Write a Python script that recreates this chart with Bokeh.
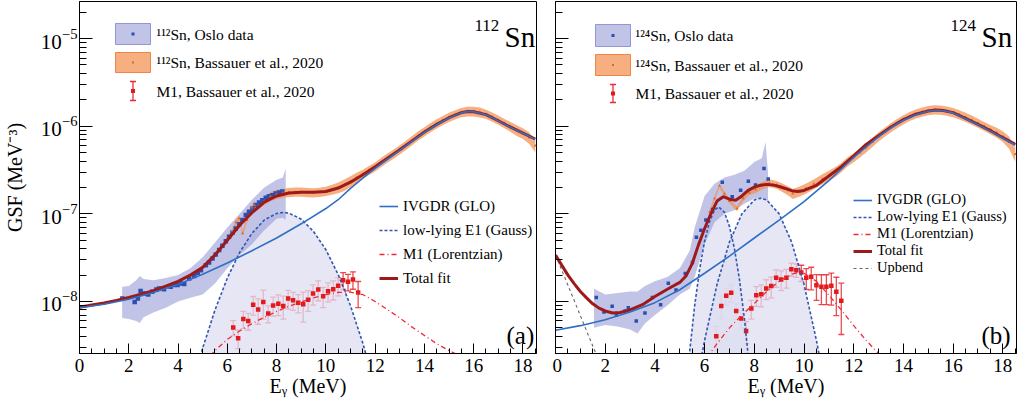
from bokeh.plotting import figure
from bokeh.models import (ColumnDataSource, FixedTicker, SingleIntervalTicker, Range1d, Label,
                          Legend, LegendItem, Whisker, TeeHead, BoxAnnotation)
from bokeh.layouts import row
from bokeh.embed import file_html
from bokeh.resources import INLINE

FONT = "Liberation Serif"

# ---------------- 112Sn data ----------------
oslo112_e = [1.74, 2.24, 2.37, 2.48, 2.62, 2.79, 2.95, 3.12, 3.23, 3.43, 3.70, 3.84, 3.98, 4.11, 4.25,
             4.45, 4.66, 4.80, 4.93, 5.13, 5.26, 5.40, 5.53, 5.67, 5.80, 5.94, 6.07, 6.21, 6.34, 6.48,
             6.61, 6.75, 6.88, 7.02, 7.15, 7.29, 7.42, 7.56, 7.69, 7.83, 7.96, 8.10, 8.23]
oslo112_v = [1.08e-8, 9.9e-9, 1.08e-8, 1.32e-8, 1.23e-8, 1.2e-8, 1.29e-8, 1.37e-8, 1.41e-8, 1.38e-8,
             1.47e-8, 1.54e-8, 1.54e-8, 1.6e-8, 1.58e-8, 1.83e-8, 1.96e-8, 2.13e-8, 2.28e-8, 2.6e-8,
             2.79e-8, 3.1e-8, 3.44e-8, 3.86e-8, 4.33e-8, 4.88e-8, 5.48e-8, 6.1e-8, 6.8e-8, 7.6e-8,
             8.5e-8, 9.7e-8, 1.06e-7, 1.15e-7, 1.26e-7, 1.35e-7, 1.43e-7, 1.53e-7, 1.59e-7, 1.63e-7,
             1.71e-7, 1.75e-7, 1.8e-7]
band112_e = [1.73, 2.0, 2.3, 2.45, 2.6, 3.0, 3.5, 4.0, 4.5, 5.0, 5.5, 6.0, 6.5, 7.0, 7.5, 8.0, 8.25, 8.37]
band112_hi = [1.47e-8, 1.5e-8, 1.75e-8, 1.95e-8, 1.8e-8, 1.75e-8, 1.85e-8, 2.0e-8, 2.4e-8, 3.2e-8,
              4.7e-8, 7.0e-8, 1.0e-7, 1.45e-7, 2.0e-7, 2.45e-7, 2.6e-7, 3.3e-7]
band112_lo = [6.5e-9, 6.3e-9, 6.0e-9, 5.7e-9, 6.6e-9, 7.5e-9, 8.5e-9, 1.0e-8, 1.1e-8, 1.2e-8,
              1.6e-8, 2.4e-8, 3.4e-8, 4.5e-8, 6.5e-8, 8.8e-8, 9.0e-8, 8.5e-8]

bass112_e = [6.0, 6.2, 6.35, 6.48, 6.62, 6.8, 7.0, 7.1, 7.25, 7.5, 7.75, 8.0, 8.25, 8.5, 8.75, 9.0,
             9.25, 9.5, 9.75, 10.0, 10.25, 10.5, 10.75, 11.0, 11.25, 11.5, 11.75, 12.0, 12.25, 12.5,
             12.75, 13.0, 13.25, 13.5, 13.75, 14.0, 14.25, 14.5, 14.75, 15.0, 15.25, 15.5, 15.75,
             16.0, 16.25, 16.5, 16.75, 17.0, 17.25, 17.5, 17.75, 18.0, 18.25, 18.5]
bass112_v = [5.2e-8, 6.3e-8, 8.0e-8, 8.9e-8, 6.0e-8, 8.5e-8, 1.18e-7, 1.26e-7, 1.2e-7, 1.4e-7,
             1.58e-7, 1.68e-7, 1.73e-7, 1.76e-7, 1.78e-7, 1.78e-7, 1.76e-7, 1.75e-7, 1.77e-7, 1.82e-7,
             1.9e-7, 2.0e-7, 2.15e-7, 2.35e-7, 2.6e-7, 2.85e-7, 3.15e-7, 3.45e-7, 3.9e-7, 4.35e-7,
             4.85e-7, 5.4e-7, 6.1e-7, 6.9e-7, 7.8e-7, 8.7e-7, 9.7e-7, 1.07e-6, 1.17e-6, 1.27e-6,
             1.36e-6, 1.44e-6, 1.48e-6, 1.48e-6, 1.45e-6, 1.38e-6, 1.28e-6, 1.18e-6, 1.08e-6, 9.9e-7,
             9.0e-7, 8.3e-7, 7.4e-7, 6.0e-7]
bass112_rel = [0.06, 0.06, 0.07, 0.07, 0.06, 0.07, 0.07, 0.07, 0.08, 0.10,
               0.12, 0.12, 0.12, 0.12, 0.12, 0.12, 0.12, 0.12, 0.12, 0.12,
               0.13, 0.14, 0.15, 0.14, 0.13, 0.12, 0.12, 0.12, 0.12, 0.12,
               0.12, 0.12, 0.12, 0.12, 0.12, 0.12, 0.12, 0.12, 0.12, 0.12,
               0.12, 0.12, 0.13, 0.13, 0.13, 0.12, 0.12, 0.12, 0.12, 0.13,
               0.14, 0.14, 0.15, 0.16]

m1_112_e = [6.24, 6.44, 6.65, 6.85, 7.05, 7.25, 7.46, 7.66, 7.86, 8.07, 8.27, 8.47, 8.67, 8.88,
            9.08, 9.28, 9.48, 9.69, 9.89, 10.09, 10.3, 10.5, 10.7, 10.9, 11.1, 11.31]
m1_112_v = [5.05e-9, 3.8e-9, 6.3e-9, 6.0e-9, 9.2e-9, 8.1e-9, 9.9e-9, 7.3e-9, 9.0e-9, 9.4e-9,
            8.9e-9, 1.08e-8, 1.03e-8, 9.7e-9, 9.3e-9, 1.05e-8, 1.23e-8, 1.37e-8, 1.15e-8, 1.31e-8,
            1.38e-8, 1.51e-8, 1.75e-8, 1.68e-8, 1.78e-8, 1.27e-8]
m1_112_err = [1.0e-9, 0.9e-9, 1.4e-9, 1.3e-9, 2.2e-9, 2.6e-9, 3.6e-9, 1.6e-9, 2.2e-9, 2.5e-9,
              2.6e-9, 2.6e-9, 2.4e-9, 2.3e-9, 3.5e-9, 2.8e-9, 3.2e-9, 3.5e-9, 3.0e-9, 3.2e-9,
              3.4e-9, 3.5e-9, 3.8e-9, 3.6e-9, 4.0e-9, 4.2e-9]

glo112_e = [0, 1, 2, 3, 4, 5, 6, 7, 8, 9, 10, 10.5, 11, 11.5, 12, 12.5, 13, 13.5, 14, 14.5, 15,
            15.5, 15.75, 16, 16.5, 17, 17.5, 18, 18.5]
glo112_v = [8.5e-9, 9.3e-9, 1.06e-8, 1.27e-8, 1.56e-8, 2.05e-8, 2.75e-8, 3.8e-8, 5.3e-8, 7.7e-8,
            1.15e-7, 1.45e-7, 1.95e-7, 2.55e-7, 3.3e-7, 4.2e-7, 5.3e-7, 6.7e-7, 8.5e-7, 1.04e-6,
            1.24e-6, 1.42e-6, 1.47e-6, 1.46e-6, 1.35e-6, 1.15e-6, 9.7e-7, 8.3e-7, 7.1e-7]
gau112_e = [4.9, 5.0, 5.5, 6.0, 6.5, 7.0, 7.5, 8.0, 8.28, 8.5, 9.0, 9.5, 10.0, 10.5, 11.0, 11.5, 11.7]
gau112_v = [2.35e-9, 2.94e-9, 8.0e-9, 1.85e-8, 3.63e-8, 6.0e-8, 8.5e-8, 1.01e-7, 1.04e-7, 1.02e-7,
            8.7e-8, 6.3e-8, 3.9e-8, 2.03e-8, 8.95e-9, 3.35e-9, 2.1e-9]
lor112_e = [5.3, 5.5, 6.0, 6.5, 7.0, 7.5, 8.0, 8.5, 9.0, 9.5, 10.0, 10.5, 11.0, 11.5, 12.0, 12.5,
            13.0, 13.5, 14.0, 14.5, 15.0, 15.5]
lor112_v = [2.4e-9, 2.75e-9, 3.7e-9, 4.6e-9, 5.6e-9, 6.6e-9, 7.7e-9, 8.8e-9, 9.9e-9, 1.1e-8,
            1.2e-8, 1.27e-8, 1.28e-8, 1.2e-8, 1.0e-8, 8.1e-9, 6.5e-9, 5.1e-9, 4.1e-9, 3.3e-9,
            2.75e-9, 2.35e-9]
tot112_e = [0, 0.5, 1, 1.5, 2, 2.5, 3, 3.5, 4, 4.5, 5, 5.5, 6, 6.5, 7, 7.5, 8, 8.5, 9, 9.5, 10,
            10.5, 11, 11.5, 12, 12.5, 13, 13.5, 14, 14.5, 15, 15.5, 15.75, 16, 16.5, 17, 17.5, 18, 18.5]
tot112_v = [8.6e-9, 9.1e-9, 9.6e-9, 1.03e-8, 1.11e-8, 1.21e-8, 1.33e-8, 1.5e-8, 1.7e-8, 2.0e-8,
            2.45e-8, 3.4e-8, 5.0e-8, 7.4e-8, 1.03e-7, 1.36e-7, 1.6e-7, 1.73e-7, 1.76e-7, 1.76e-7,
            1.8e-7, 1.97e-7, 2.3e-7, 2.8e-7, 3.45e-7, 4.3e-7, 5.4e-7, 6.8e-7, 8.6e-7, 1.05e-6,
            1.25e-6, 1.43e-6, 1.475e-6, 1.465e-6, 1.355e-6, 1.155e-6, 9.75e-7, 8.35e-7, 7.15e-7]

# ---------------- 124Sn data ----------------
oslo124_e = [1.64, 1.95, 2.28, 2.45, 2.80, 2.93, 3.25, 3.60, 3.90, 4.23, 4.54, 4.85, 5.22, 5.51,
             5.67, 5.85, 6.05, 6.32, 6.71, 7.11, 7.45, 7.76, 8.05, 8.39, 8.56]
oslo124_v = [1.11e-8, 7.6e-9, 8.8e-9, 7.0e-9, 7.8e-9, 8.5e-9, 6.0e-9, 7.4e-9, 1.11e-8, 9.2e-9,
             1.62e-8, 1.35e-8, 2.09e-8, 2.79e-8, 5.4e-8, 6.5e-8, 8.5e-8, 1.12e-7, 2.3e-7, 1.57e-7,
             1.86e-7, 2.36e-7, 2.14e-7, 3.3e-7, 2.5e-7]
band124_e = [1.55, 2.0, 2.5, 3.0, 3.3, 3.6, 4.0, 4.5, 5.0, 5.4, 5.6, 6.0, 6.4, 6.8, 7.2, 7.6, 8.0,
             8.3, 8.45, 8.55]
band124_hi = [1.4e-8, 1.2e-8, 1.25e-8, 1.3e-8, 1.3e-8, 1.5e-8, 1.7e-8, 1.9e-8, 2.4e-8, 3.8e-8,
              7.0e-8, 1.6e-7, 2.2e-7, 2.6e-7, 2.8e-7, 3.1e-7, 3.9e-7, 4.3e-7, 6.6e-7, 3.0e-7]
band124_lo = [5.0e-9, 5.4e-9, 5.2e-9, 4.8e-9, 4.3e-9, 5.6e-9, 7.0e-9, 9.0e-9, 1.2e-8, 1.4e-8,
              1.9e-8, 4.5e-8, 8.0e-8, 1.0e-7, 1.1e-7, 1.3e-7, 1.5e-7, 1.5e-7, 1.45e-7, 1.4e-7]

bass124_e = [6.2, 6.4, 6.6, 6.8, 7.0, 7.3, 7.55, 7.8, 8.05, 8.3, 8.6, 8.9, 9.13, 9.35, 9.55, 9.8,
             10.07, 10.4, 10.74, 11.0, 11.28, 11.5, 11.75, 12.0, 12.25, 12.5, 12.75, 13.0, 13.25,
             13.5, 13.75, 14.0, 14.25, 14.5, 14.75, 15.0, 15.25, 15.5, 15.75, 16.0, 16.25, 16.5,
             16.75, 17.0, 17.25, 17.5, 17.75, 18.0, 18.25, 18.5]
bass124_v = [1.05e-7, 1.5e-7, 2.1e-7, 1.7e-7, 1.4e-7, 1.15e-7, 1.5e-7, 1.75e-7, 1.9e-7, 2.1e-7,
             2.25e-7, 2.15e-7, 2.0e-7, 1.85e-7, 1.7e-7, 1.8e-7, 1.95e-7, 2.2e-7, 2.5e-7, 2.75e-7,
             3.05e-7, 3.4e-7, 3.95e-7, 4.4e-7, 5.0e-7, 5.7e-7, 6.6e-7, 7.6e-7, 8.6e-7, 9.7e-7,
             1.08e-6, 1.19e-6, 1.3e-6, 1.39e-6, 1.46e-6, 1.52e-6, 1.55e-6, 1.54e-6, 1.5e-6, 1.44e-6,
             1.36e-6, 1.27e-6, 1.18e-6, 1.09e-6, 1.0e-6, 9.2e-7, 8.5e-7, 7.7e-7, 6.6e-7, 4.8e-7]
bass124_rel = [0.06, 0.06, 0.06, 0.06, 0.06, 0.06, 0.07, 0.07, 0.09, 0.10,
               0.10, 0.10, 0.11, 0.12, 0.13, 0.13, 0.13, 0.13, 0.13, 0.13,
               0.13, 0.12, 0.12, 0.12, 0.12, 0.12, 0.12, 0.12, 0.12, 0.12,
               0.12, 0.12, 0.12, 0.12, 0.12, 0.12, 0.12, 0.12, 0.12, 0.12,
               0.12, 0.12, 0.12, 0.12, 0.12, 0.12, 0.13, 0.14, 0.16, 0.18]

m1_124_e = [6.47, 6.67, 6.87, 7.07, 7.27, 7.47, 7.67, 7.88, 8.08, 8.28, 8.48, 8.68, 8.88, 9.08,
            9.29, 9.49, 9.69, 9.89, 10.09, 10.29, 10.5, 10.7, 10.9, 11.1, 11.3, 11.5]
m1_124_v = [4.0e-9, 8.9e-9, 1.16e-8, 1.26e-8, 7.8e-9, 6.4e-9, 4.6e-9, 8.3e-9, 1.18e-8, 1.21e-8,
            1.41e-8, 1.5e-8, 1.87e-8, 1.78e-8, 1.87e-8, 2.34e-8, 2.28e-8, 2.14e-8, 1.87e-8, 1.91e-8,
            1.53e-8, 1.47e-8, 1.47e-8, 1.51e-8, 1.29e-8, 1.02e-8]
m1_124_err = [1.2e-9, 2.6e-9, 2.5e-9, 2.8e-9, 1.6e-9, 1.4e-9, 1.3e-9, 2.0e-9, 3.0e-9, 3.4e-9,
              3.6e-9, 4.0e-9, 4.2e-9, 4.5e-9, 4.5e-9, 4.0e-9, 4.0e-9, 4.5e-9, 5.0e-9, 5.5e-9,
              5.0e-9, 5.5e-9, 5.5e-9, 6.0e-9, 6.0e-9, 6.0e-9]

glo124_e = [0, 1, 2, 3, 4, 5, 6, 7, 8, 9, 10, 11, 12, 13, 13.5, 14, 14.5, 15, 15.3, 15.6, 16,
            16.5, 17, 17.5, 18, 18.5]
glo124_v = [4.7e-9, 5.3e-9, 6.2e-9, 7.6e-9, 9.7e-9, 1.36e-8, 2.1e-8, 3.3e-8, 5.3e-8, 8.5e-8,
            1.38e-7, 2.4e-7, 4.4e-7, 7.6e-7, 9.6e-7, 1.17e-6, 1.35e-6, 1.48e-6, 1.52e-6, 1.5e-6,
            1.42e-6, 1.22e-6, 1.04e-6, 8.8e-7, 7.3e-7, 6.1e-7]
gau1_124_e = [5.3, 5.4, 5.6, 5.8, 6.0, 6.2, 6.4, 6.57, 6.8, 7.0, 7.2, 7.4, 7.6, 7.8, 7.85]
gau1_124_v = [1.4e-9, 2.7e-9, 9.0e-9, 2.34e-8, 4.9e-8, 8.2e-8, 1.11e-7, 1.2e-7, 1.04e-7, 7.2e-8,
              4.0e-8, 1.8e-8, 6.4e-9, 1.8e-9, 1.4e-9]
gau2_124_e = [5.8, 5.9, 6.0, 6.5, 7.0, 7.5, 8.0, 8.25, 8.5, 9.0, 9.5, 10.0, 10.5, 10.6, 10.7]
gau2_124_v = [1.9e-9, 2.55e-9, 3.6e-9, 1.57e-8, 4.77e-8, 1.0e-7, 1.44e-7, 1.51e-7, 1.44e-7, 1.0e-7,
              4.77e-8, 1.57e-8, 3.6e-9, 2.55e-9, 1.9e-9]
lor124_e = [6.1, 6.5, 7.0, 7.5, 8.0, 8.5, 9.0, 9.5, 9.8, 10.0, 10.5, 11.0, 11.5, 12.0, 12.5, 13.0, 13.2]
lor124_v = [2.3e-9, 3.3e-9, 5.0e-9, 7.0e-9, 9.5e-9, 1.3e-8, 1.7e-8, 2.05e-8, 2.15e-8, 2.1e-8,
            1.7e-8, 1.18e-8, 8.0e-9, 5.3e-9, 3.6e-9, 2.55e-9, 2.2e-9]
upb124_e = [0, 0.4, 0.8, 1.2, 1.6, 1.8]
upb124_v = [3.4e-8, 1.8e-8, 9.5e-9, 5.0e-9, 2.65e-9, 1.95e-9]
tot124_e = [0, 0.25, 0.5, 0.75, 1.0, 1.25, 1.5, 1.75, 2.0, 2.3, 2.6, 3.0, 3.5, 4.0, 4.5, 5.0, 5.25,
            5.5, 5.75, 6.0, 6.25, 6.5, 6.75, 7.0, 7.25, 7.5, 7.75, 8.0, 8.25, 8.5, 8.75, 9.0, 9.25,
            9.5, 9.75, 10.0, 10.5, 11.0, 11.5, 12.0, 12.5, 13.0, 13.5, 14.0, 14.5, 15.0, 15.3, 15.6,
            16.0, 16.5, 17.0, 17.5, 18.0, 18.5]
tot124_v = [3.4e-8, 2.6e-8, 2.0e-8, 1.6e-8, 1.3e-8, 1.1e-8, 9.4e-9, 8.4e-9, 7.8e-9, 7.4e-9,
            7.5e-9, 8.0e-9, 9.2e-9, 1.14e-8, 1.38e-8, 1.65e-8, 1.95e-8, 2.7e-8, 4.4e-8, 6.8e-8,
            1.0e-7, 1.4e-7, 1.57e-7, 1.47e-7, 1.43e-7, 1.6e-7, 1.85e-7, 2.02e-7, 2.12e-7, 2.17e-7,
            2.14e-7, 2.05e-7, 1.95e-7, 1.84e-7, 1.8e-7, 1.85e-7, 2.12e-7, 2.7e-7, 3.45e-7, 4.6e-7,
            6.2e-7, 7.8e-7, 9.8e-7, 1.19e-6, 1.37e-6, 1.49e-6, 1.53e-6, 1.51e-6, 1.43e-6, 1.23e-6,
            1.05e-6, 8.9e-7, 7.4e-7, 6.2e-7]

Y_MAJOR = [1e-8, 1e-7, 1e-6, 1e-5]
Y_MINOR = [m * 10.0 ** e for e in range(-9, -4) for m in range(2, 10)]

C_OSLO_BAND = "#8e93d2"
C_OSLO_PT = "#2b4fb0"
C_BASS_BAND = "#f39050"
C_BASS_PT = "#e8641e"
C_M1 = "#e31a1c"
C_ERR = "#e62e36"
C_GLO = "#2f6fc4"
C_GAUSS = "#3256b0"
C_GFILL = "#dedef2"
C_TOT = "#9e1a1a"

FIG_H = 405


def make_fig(width, mb_left, mb_right, ylabels):
    p = figure(width=width, height=FIG_H, y_axis_type="log",
               x_range=Range1d(0, 18.55), y_range=Range1d(2.55e-9, 2.65e-5),
               output_backend="svg", toolbar_location=None,
               min_border_left=mb_left, min_border_right=mb_right,
               min_border_top=1, min_border_bottom=52)
    p.grid.visible = False
    p.outline_line_color = "black"
    p.outline_line_width = 1
    p.outline_line_alpha = 1
    xa = p.xaxis[0]
    xa.ticker = SingleIntervalTicker(interval=2, num_minor_ticks=4)
    xa.major_tick_in = 10
    xa.major_tick_out = 0
    xa.minor_tick_in = 5
    xa.minor_tick_out = 0
    xa.major_label_text_font = FONT
    xa.major_label_text_font_size = "19px"
    xa.major_label_text_color = "black"
    xa.major_label_standoff = 5
    xa.axis_line_color = "black"
    xa.axis_label = "E\u1d67 (MeV)"
    xa.axis_label_text_font = FONT
    xa.axis_label_text_font_size = "20px"
    xa.axis_label_text_font_style = "normal"
    xa.axis_label_text_color = "black"
    xa.axis_label_standoff = 0
    ya = p.yaxis[0]
    ya.ticker = FixedTicker(ticks=Y_MAJOR, minor_ticks=Y_MINOR)
    ya.major_tick_in = 13
    ya.major_tick_out = 0
    ya.minor_tick_in = 7
    ya.minor_tick_out = 0
    ya.axis_line_color = "black"
    if ylabels:
        ya.major_label_text_font = FONT
        ya.major_label_text_font_size = "21px"
        ya.major_label_text_color = "black"
        ya.major_label_standoff = 2
        ya.axis_label = "GSF (MeV\u207b\u00b3)"
        ya.axis_label_text_font = FONT
        ya.axis_label_text_font_size = "20px"
        ya.axis_label_text_font_style = "normal"
        ya.axis_label_text_color = "black"
        ya.axis_label_standoff = 12
    else:
        ya.major_label_text_font_size = "1px"
        ya.major_label_text_alpha = 0
        ya.major_label_standoff = 0
    return p


def label(p, txt, x, y, size, baseline="alphabetic", align="left"):
    p.add_layout(Label(x=x, y=y, x_units="screen", y_units="screen", text=txt,
                       text_font=FONT, text_font_size=f"{size}px", text_color="black",
                       text_baseline=baseline, text_align=align))


def draw_panel(p, d):
    for ge, gv in d["gauss"]:
        p.varea(x=ge, y1=1e-10, y2=gv, fill_color=C_GFILL, fill_alpha=0.75)
    p.varea(x=d["band_e"], y1=d["band_lo"], y2=d["band_hi"], fill_color=C_OSLO_BAND, fill_alpha=0.55)
    lo = [v * (1 - r) for v, r in zip(d["bass_v"], d["bass_rel"])]
    hi = [v * (1 + r) for v, r in zip(d["bass_v"], d["bass_rel"])]
    p.varea(x=d["bass_e"], y1=lo, y2=hi, fill_color=C_BASS_BAND, fill_alpha=0.72)
    p.scatter(d["oslo_e"], d["oslo_v"], marker="square", size=d["oslo_size"],
              fill_color=C_OSLO_PT, line_color=None)
    p.scatter(d["bass_e"], d["bass_v"], marker="triangle", size=3, fill_color=C_BASS_PT, line_color=None)
    src = ColumnDataSource(dict(x=d["m1_e"], y=d["m1_v"],
                                lo=[v - e for v, e in zip(d["m1_v"], d["m1_err"])],
                                hi=[v + e for v, e in zip(d["m1_v"], d["m1_err"])]))
    p.add_layout(Whisker(source=src, base="x", lower="lo", upper="hi", dimension="height",
                         line_color=C_ERR, line_width=1.3, line_alpha=0.85,
                         upper_head=TeeHead(size=6, line_color=C_ERR, line_width=1.3, line_alpha=0.85),
                         lower_head=TeeHead(size=6, line_color=C_ERR, line_width=1.3, line_alpha=0.85)))
    p.scatter("x", "y", source=src, marker="square", size=4.5, fill_color=C_M1, line_color=None)
    r = {"gauss": None}
    for ge, gv in d["gauss"]:
        g = p.line(ge, gv, line_color=C_GAUSS, line_width=1.6, line_dash="3 2")
        if r["gauss"] is None:
            r["gauss"] = g
    r["lor"] = p.line(d["lor_e"], d["lor_v"], line_color="#f02a35", line_width=1.3, line_dash="5 3 1 3")
    if "upb_e" in d:
        r["upb"] = p.line(d["upb_e"], d["upb_v"], line_color="#666666", line_width=1.1, line_dash="3 3")
    r["tot"] = p.line(d["tot_e"], d["tot_v"], line_color=C_TOT, line_width=3)
    r["glo"] = p.line(d["glo_e"], d["glo_v"], line_color=C_GLO, line_width=1.6)
    return r


def sbox(p, l, r, t, b, **kw):
    p.add_layout(BoxAnnotation(left=l, right=r, top=t, bottom=b, left_units="screen",
                               right_units="screen", top_units="screen", bottom_units="screen", **kw))


def manual_legend1(p, bx0, bx1, tx, box1, box2, err, nuc):
    (t1, b1), (t2, b2), (et, eb) = box1, box2, err
    cx = (bx0 + bx1) / 2
    sbox(p, bx0, bx1, t1, b1, fill_color=C_OSLO_BAND, fill_alpha=0.55, line_color="#7d83cc",
         line_width=1, line_alpha=0.8)
    sbox(p, cx - 1.5, cx + 1.5, (t1 + b1) / 2 + 1.5, (t1 + b1) / 2 - 1.5, fill_color=C_OSLO_PT,
         fill_alpha=1, line_color=None)
    sbox(p, bx0, bx1, t2, b2, fill_color=C_BASS_BAND, fill_alpha=0.72, line_color="#f07a35",
         line_width=1, line_alpha=0.9)
    sbox(p, cx - 1, cx + 1, (t2 + b2) / 2 + 1, (t2 + b2) / 2 - 1, fill_color=C_BASS_PT,
         fill_alpha=1, line_color=None)
    esrc = ColumnDataSource(dict(b=[cx], u=[et], l=[eb]))
    p.add_layout(Whisker(source=esrc, base="b", upper="u", lower="l", base_units="screen",
                         upper_units="screen", lower_units="screen", dimension="height",
                         line_color=C_ERR, line_width=1.3,
                         upper_head=TeeHead(size=6, line_color=C_ERR, line_width=1.3),
                         lower_head=TeeHead(size=6, line_color=C_ERR, line_width=1.3)))
    ec = (et + eb) / 2
    sbox(p, cx - 2, cx + 2, ec + 2, ec - 2, fill_color=C_M1, fill_alpha=1, line_color=None)
    label(p, f"{nuc}Sn, Oslo data", tx, (t1 + b1) / 2, 15.5, baseline="middle")
    label(p, f"{nuc}Sn, Bassauer et al., 2020", tx, (t2 + b2) / 2, 15.5, baseline="middle")
    label(p, "M1, Bassauer et al., 2020", tx, ec, 15.5, baseline="middle")


def line_legend(p, items, loc, row_h, spacing, font_size):
    leg = Legend(items=[LegendItem(label=t, renderers=[rr]) for t, rr in items],
                 location=loc, orientation="vertical", glyph_width=19, glyph_height=row_h,
                 label_height=row_h, spacing=spacing, padding=0, margin=0, label_standoff=5,
                 label_text_font=FONT, label_text_font_size=font_size, label_text_color="black",
                 background_fill_alpha=0, border_line_alpha=0)
    p.add_layout(leg)


# ---------------- left panel ----------------
p1 = make_fig(552, 78, 16, True)
r1 = draw_panel(p1, dict(gauss=[(gau112_e, gau112_v)], band_e=band112_e, band_lo=band112_lo,
                         band_hi=band112_hi, bass_e=bass112_e, bass_v=bass112_v, bass_rel=bass112_rel,
                         oslo_e=oslo112_e, oslo_v=oslo112_v, oslo_size=4.5, m1_e=m1_112_e,
                         m1_v=m1_112_v, m1_err=m1_112_err, lor_e=lor112_e, lor_v=lor112_v,
                         tot_e=tot112_e, tot_v=tot112_v, glo_e=glo112_e, glo_v=glo112_v))
manual_legend1(p1, 36, 71, 77, (330, 309), (301, 281), (272, 253), "\u00b9\u00b9\u00b2")
line_legend(p1, [("IVGDR (GLO)", r1["glo"]), ("low-lying E1 (Gauss)", r1["gauss"]),
                 ("M1 (Lorentzian)", r1["lor"]), ("Total fit", r1["tot"])], (300, 66), 18, 6, "15px")
label(p1, "112", 395, 328, 17)
label(p1, "Sn", 425, 317, 29)
label(p1, "(a)", 427, 18, 25)

# ---------------- right panel ----------------
p2 = make_fig(465, 3, 1, False)
r2 = draw_panel(p2, dict(gauss=[(gau1_124_e, gau1_124_v), (gau2_124_e, gau2_124_v)], band_e=band124_e,
                         band_lo=band124_lo, band_hi=band124_hi, bass_e=bass124_e, bass_v=bass124_v,
                         bass_rel=bass124_rel, oslo_e=oslo124_e, oslo_v=oslo124_v, oslo_size=3.5,
                         m1_e=m1_124_e, m1_v=m1_124_v, m1_err=m1_124_err, lor_e=lor124_e,
                         lor_v=lor124_v, upb_e=upb124_e, upb_v=upb124_v, tot_e=tot124_e,
                         tot_v=tot124_v, glo_e=glo124_e, glo_v=glo124_v))
manual_legend1(p2, 40, 75, 80, (329, 307), (299, 278), (269, 251), "\u00b9\u00b2\u2074")
line_legend(p2, [("IVGDR (GLO)", r2["glo"]), ("Low-lying E1 (Gauss)", r2["gauss"]),
                 ("M1 (Lorentzian)", r2["lor"]), ("Total fit", r2["tot"]), ("Upbend", r2["upb"])],
            (298, 77), 16, 0, "14.5px")
label(p2, "124", 395, 328, 17)
label(p2, "Sn", 426, 317, 29)
label(p2, "(b)", 426, 18, 25)

layout = row(p1, p2)
open("out.html", "w").write(file_html(layout, INLINE))
